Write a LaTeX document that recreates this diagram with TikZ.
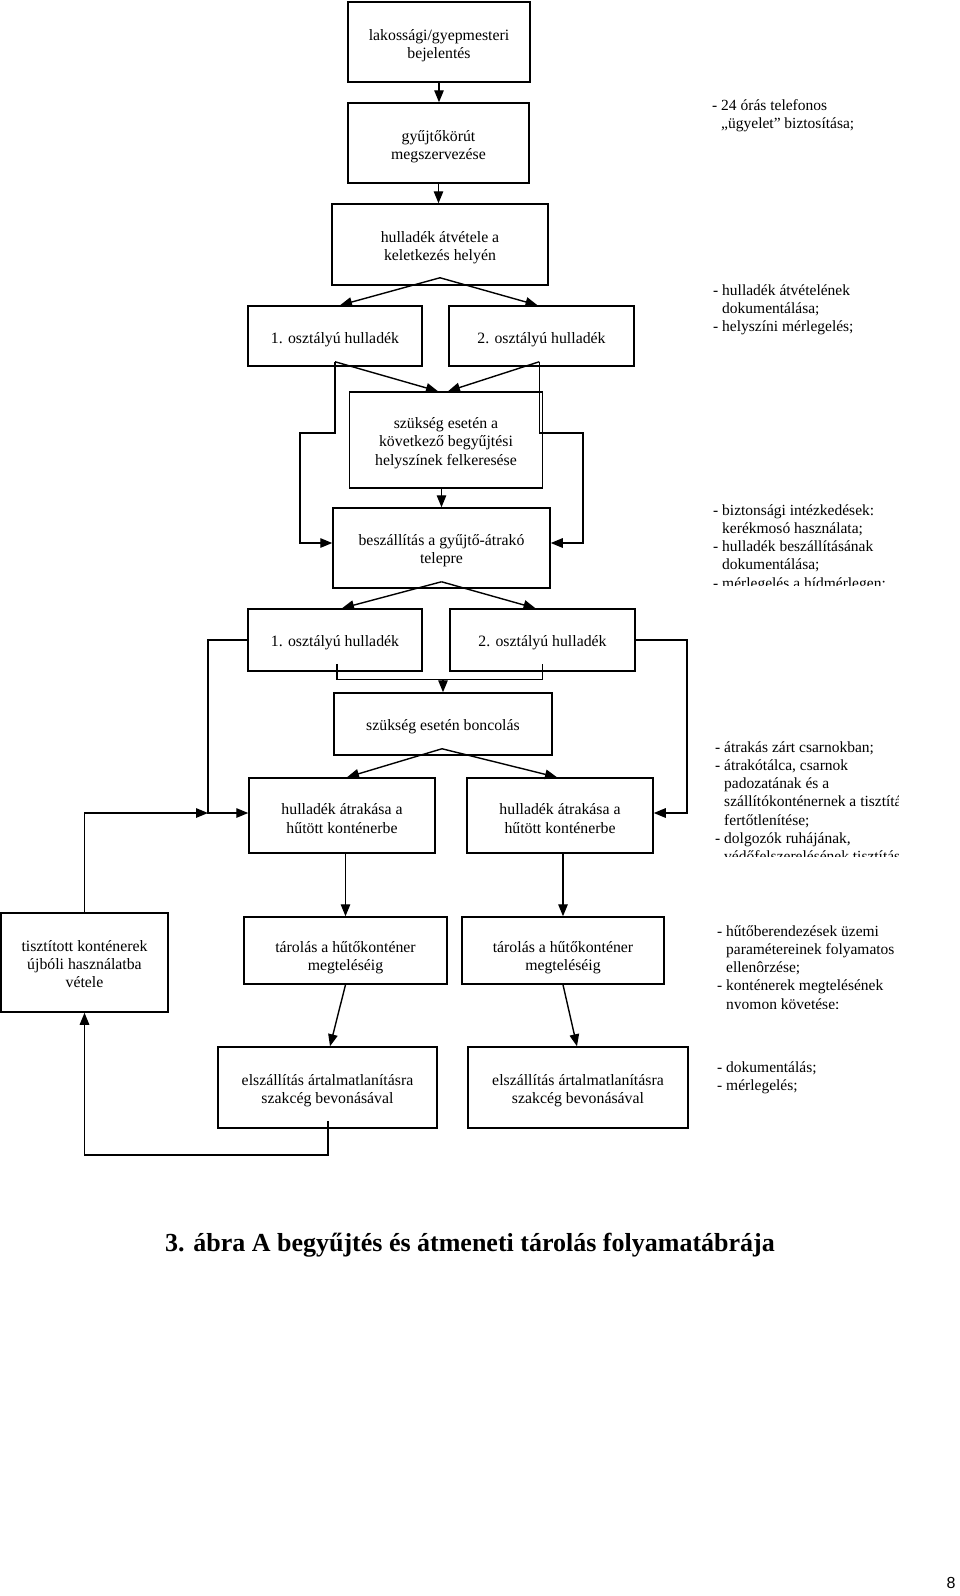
\documentclass[tikz,border=0pt]{standalone}
\usepackage{fontspec}
\setmainfont{Liberation Serif}
\newfontfamily\pagenumfont{Liberation Sans}
\usetikzlibrary{arrows.meta,calc}
\newcommand\bxfont{\fontsize{15.8}{18.3}\selectfont}
\newcommand\ntfont{\fontsize{15.5}{18.3}\selectfont}
\newcommand\hs{\phantom{- }}
\newcommand\mkbox[6]{%
  \node[box,minimum width=#3,minimum height=#4] (#1) at (#2) {};
  \node[lbl] (#1t) at ($(#1.center)+(0,#5)$) {#6};}
\begin{document}
\begin{tikzpicture}[x=1pt,y=-1pt,
  box/.style={draw,line width=1.5pt,inner sep=0pt},
  lbl/.style={inner sep=0pt,align=center,font=\bxfont},
  ln/.style={line width=1.4pt},
  arr/.style={line width=1.4pt,-{Triangle[length=12pt,width=9.5pt]}},
  note/.style={anchor=north west,inner sep=0pt,align=left,font=\ntfont}]
\useasboundingbox (0,0) rectangle (960,1596);
\fill[white] (0,0) rectangle (960,1596);

% boxes
\mkbox{b1}{439,42}{182}{80}{3.5}{lakossági/gyepmesteri\\bejelentés}
\mkbox{b2}{438.5,143}{181}{80}{3.5}{gyűjtőkörút\\megszervezése}
\mkbox{b3}{440,244.5}{216}{81}{3.5}{hulladék átvétele a\\keletkezés helyén}
\mkbox{b4}{335,336}{174}{60}{4}{1. osztályú hulladék}
\mkbox{b5}{541.5,336}{185}{60}{4}{2. osztályú hulladék}
\mkbox{b6}{446,440}{193}{96}{3}{szükség esetén a\\következő begyűjtési\\helyszínek felkeresése}
\mkbox{b7}{441.5,548}{217}{80}{3}{beszállítás a gyűjtő-átrakó\\telepre}
\mkbox{b8}{335,640}{174}{62}{3}{1. osztályú hulladék}
\mkbox{b9}{542.5,640}{185}{62}{3}{2. osztályú hulladék}
\mkbox{b10}{443,724}{218}{62}{3}{szükség esetén boncolás}
\mkbox{b11}{342,815.5}{186}{75}{3}{hulladék átrakása a\\hűtött konténerbe}
\mkbox{b12}{560,815.5}{186}{75}{3}{hulladék átrakása a\\hűtött konténerbe}
\mkbox{b13}{345.5,950.5}{203}{67}{7}{tárolás a hűtőkonténer\\megteléséig}
\mkbox{b14}{563,950.5}{202}{67}{7}{tárolás a hűtőkonténer\\megteléséig}
\mkbox{b15}{84.5,962.5}{167}{99}{1.5}{tisztított konténerek\\újbóli használatba\\vétele}
\mkbox{b16}{327.5,1087.5}{219}{81}{3.5}{elszállítás ártalmatlanításra\\szakcég bevonásával}
\mkbox{b17}{578,1087.5}{220}{81}{3.5}{elszállítás ártalmatlanításra\\szakcég bevonásával}

% connectors
\draw[arr] (b1.south) -- (b1.south |- b2.north);
\draw[arr] (b2.south) -- (b2.south |- b3.north);
\coordinate (s3) at ($(b3.south)+(0,-8)$);
\draw[arr] (s3) -- ($(b4.north)+(5,0)$);
\draw[arr] (s3) -- ($(b5.north)+(-4,0)$);
\coordinate (L1) at ($(b4.south)+(0,-5)$);
\coordinate (R1) at ($(b5.south west)+(91,-5)$);
\draw[arr] (L1) -- ($(b6.north)+(-8,0)$);
\draw[arr] (R1) -- ($(b6.north)+(2,0)$);
\coordinate (L2) at (300,433); \coordinate (R2) at (583,433);
\coordinate (L3) at (300,543); \coordinate (R3) at (583,543);
\draw[arr] (L1) |- (L2) -- (L3) -- (b7.west |- L3);
\draw[arr] (R1) |- (R2) -- (R3) -- (b7.east |- R3);
\draw[arr] (b6.south -| b7.north) -- (b7.north);
\coordinate (s7) at ($(b7.south)+(0,-7)$);
\draw[arr] (s7) -- ($(b8.north)+(7,0)$);
\draw[arr] (s7) -- ($(b9.north)+(-7,0)$);
\coordinate (j8) at ($(b8.south)+(2,8)$);
\coordinate (j9) at ($(b9.south)+(0,8)$);
\draw[ln] ($(b8.south)+(2,-8)$) -- (j8) -- (j9) -- ($(b9.south)+(0,-8)$);
\coordinate (j10) at (j8 -| b10.north);
\draw[arr] (j10) -- (b10.north);
\coordinate (s10) at ($(b10.south)+(-1,-7)$);
\draw[arr] (s10) -- ($(b11.north)+(5,0)$);
\draw[arr] (s10) -- ($(b12.north)+(-3,0)$);
\coordinate (jL) at (208,813); \coordinate (jR) at (687,813);
\draw[arr] (b8.west) -| (jL) -- (b11.west |- jL);
\draw[arr] (b9.east) -| (jR) -- (b12.east |- jR);
\draw[arr] (b15.north) |- (jL);
\draw[arr] (b11.south -| b13.north) -- (b13.north);
\draw[arr] (b12.south -| b14.north) -- (b14.north);
\draw[arr] (b13.south) -- ($(b16.north)+(2.5,0)$);
\draw[arr] (b14.south) -- ($(b17.north)+(-1,0)$);
\coordinate (rB) at (328,1155);
\draw[arr] ($(b16.south)+(0.5,-8)$) -- (rB) -| (b15.south);

% side notes
\node[note] (t1) at (712,97) {\strut- 24 órás telefonos\\\hs„ügyelet” biztosítása;};
\node[note] (t2) at (713,282) {\strut- hulladék átvételének\\\hs dokumentálása;\\- helyszíni mérlegelés;};
\begin{scope}
\clip (700,495) rectangle (960,585);
\node[note] (t3) at (713,502) {\strut- biztonsági intézkedések:\\\hs kerékmosó használata;\\- hulladék beszállításának\\\hs dokumentálása;\\- mérlegelés a hídmérlegen;};
\end{scope}
\begin{scope}
\clip (700,730) rectangle (898,856);
\node[note] (t4) at (715,739) {\strut- átrakás zárt csarnokban;\\- átrakótálca, csarnok\\\hs padozatának és a\\\hs szállítókonténernek a tisztítása,\\\hs fertőtlenítése;\\- dolgozók ruhájának,\\\hs védőfelszerelésének tisztítása;};
\end{scope}
\begin{scope}
\clip (700,915) rectangle (960,1008);
\node[note] (t5) at (717,923) {\strut- hűtőberendezések üzemi\\\hs paramétereinek folyamatos\\\hs ellenôrzése;\\- konténerek megtelésének\\\hs nyomon követése;};
\end{scope}
\node[note] (t6) at (717,1059) {\strut- dokumentálás;\\- mérlegelés;};

% caption and page number
\node[inner sep=0pt,font=\fontsize{26}{30}\selectfont\bfseries] (cap) at (470,1245) {3. ábra A begyűjtés és átmeneti tárolás folyamatábrája};
\node[inner sep=0pt,font=\pagenumfont\fontsize{16}{19}\selectfont] (pg) at (951,1583) {8};
\end{tikzpicture}
\end{document}
